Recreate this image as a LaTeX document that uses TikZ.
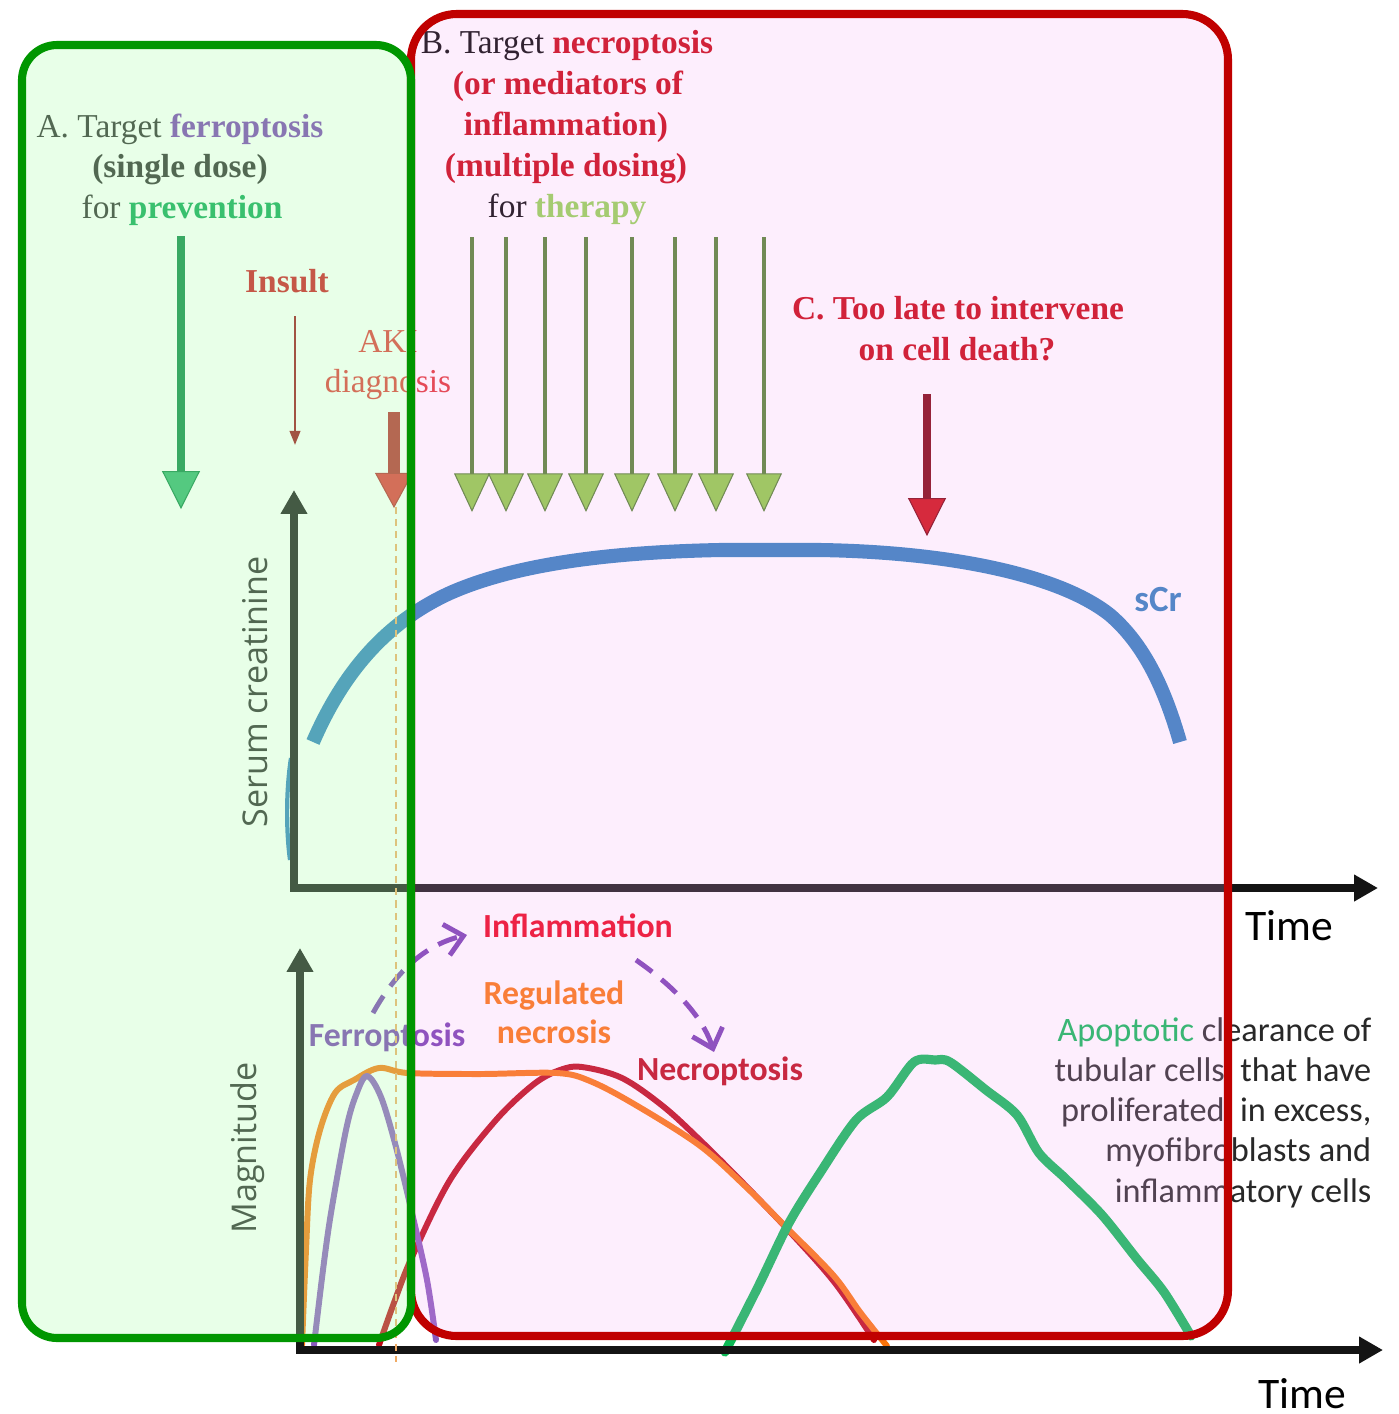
\documentclass[tikz,border=0pt]{standalone}
\usepackage{fontspec}
\setmainfont{Liberation Serif}
\newfontfamily\calfont{Carlito}
\newfontfamily\osfont{Open Sans}
\usetikzlibrary{arrows.meta}

\definecolor{boxgreen}{RGB}{0,150,0}
\definecolor{boxred}{RGB}{192,0,0}
\definecolor{greenwash}{RGB}{180,255,180}
\definecolor{pinkwash}{RGB}{245,170,245}
\definecolor{axisgrey}{RGB}{20,20,20}
\definecolor{darktext}{RGB}{40,40,40}
\definecolor{scrblue}{RGB}{45,126,189}
\definecolor{ferropurple}{RGB}{118,60,178}
\definecolor{necrored}{RGB}{189,8,20}
\definecolor{regorange}{RGB}{251,116,10}
\definecolor{apogreen}{RGB}{12,185,85}
\definecolor{titlered}{RGB}{200,0,12}
\definecolor{inflamred}{RGB}{235,0,26}
\definecolor{preventgreen}{RGB}{5,165,80}
\definecolor{therapygreen}{RGB}{145,212,82}
\definecolor{insultred}{RGB}{205,15,25}
\definecolor{akired}{RGB}{225,50,50}
\definecolor{doseshaft}{RGB}{80,130,45}
\definecolor{dosehead}{RGB}{139,205,66}
\definecolor{lateshaft}{RGB}{126,0,10}
\definecolor{latehead}{RGB}{207,10,15}
\definecolor{akidash}{RGB}{240,170,100}

\begin{document}
\begin{tikzpicture}[x=0.01cm, y=-0.01cm,
    serif/.style={font=\fontsize{9.5}{11.5}\selectfont, inner sep=0pt, anchor=base},
    sanslabel/.style={font=\calfont\bfseries\fontsize{9.6}{11.5}\selectfont, inner sep=0pt, anchor=base},
    sidetext/.style={font=\calfont\fontsize{9.75}{11.5}\selectfont, inner sep=0pt, anchor=base east, text=darktext},
    timelabel/.style={font=\calfont\fontsize{12.4}{14}\selectfont, inner sep=0pt, anchor=base},
    axislabel/.style={font=\osfont\fontsize{9.7}{11.5}\selectfont, inner sep=0pt, rotate=90, text=darktext},
    axisline/.style={axisgrey, line width=2.2pt, line join=miter,
        {Triangle[width=7.2pt, length=6.8pt]}-{Triangle[width=7.2pt, length=6.8pt]}},
    curve/.style={line width=1.7pt, line cap=round, line join=round},
    dosearrow/.style={doseshaft, line width=1.4pt,
        -{Triangle[width=10.2pt, length=11pt, fill=dosehead, line width=0.3pt]}},
    pathway/.style={ferropurple, line width=1.4pt, dash pattern=on 5.7pt off 3.4pt,
        -{Straight Barb[length=5pt, width=9pt, line width=1.4pt]}}]

    \useasboundingbox (0,0) rectangle (1399,1414);

    % serum creatinine panel
    \draw[scrblue, line width=1.2pt] (291,758) .. controls (286,790) and (286,830) .. (290,860);
    \draw[scrblue, line width=4pt] (313,742) .. controls (340,680) and (380,625) .. (450,593)
        .. controls (520,562) and (620,552) .. (720,550) -- (820,550)
        .. controls (950,552) and (1060,575) .. (1110,615)
        .. controls (1145,645) and (1165,690) .. (1180,742);
    \coordinate (ytop1) at (294,490);
    \coordinate (xend1) at (1378,888);
    \draw[axisline] (ytop1) |- (xend1);
    \node[axislabel] (scrlabel) at (255,692) {Serum creatinine};
    \node[timelabel] (time1) at (1289,940) {Time};
    \node[font=\calfont\bfseries\fontsize{10.5}{12}\selectfont, text=scrblue, inner sep=0pt, anchor=base] (scr) at (1158,611) {sCr};

    % cell death panel
    \draw[curve, necrored] plot[smooth, tension=0.55] coordinates {(379,1345) (395,1300) (412,1257) (450,1180) (496,1120) (534,1084) (560,1070) (582,1067) (622,1078) (664,1107) (703,1143) (745,1185) (790,1232) (835,1283) (874,1340)};
    \draw[curve, regorange] plot[smooth, tension=0.55] coordinates {(302,1345) (306,1250) (310,1180) (320,1130) (335,1093) (354,1080) (379,1068) (408,1073) (480,1074) (557,1073) (590,1081) (634,1104) (699,1145) (745,1186) (789,1230) (834,1276) (860,1312) (887,1346)};
    \draw[curve, ferropurple!85!white] plot[smooth, tension=0.55] coordinates {(314,1345) (323,1270) (331,1213) (346,1130) (356,1095) (367,1076) (381,1097) (396,1147) (412,1213) (427,1280) (436,1340)};
    \draw[curve, apogreen, line width=2.6pt] plot[smooth, tension=0.5] coordinates {(725,1352) (758,1287) (789,1223) (820,1173) (856,1120) (887,1097) (914,1062) (935,1060) (950,1062) (986,1090) (1017,1115) (1039,1153) (1066,1179) (1102,1215) (1137,1259) (1164,1292) (1191,1336)};
    \coordinate (ytop2) at (300,948);
    \coordinate (xend2) at (1383,1350);
    \draw[axisline] (ytop2) |- (xend2);
    \node[axislabel] (maglabel) at (248,1148) {Magnitude};
    \node[timelabel] (time2) at (1302,1408) {Time};

    \node[sanslabel, text=inflamred] (inflam) at (578,937) {Inflammation};
    \node[sanslabel, text=regorange] (regnec1) at (554,1004) {Regulated};
    \node[sanslabel, text=regorange] (regnec2) at (554,1043) {necrosis};
    \node[sanslabel, text=ferropurple] (ferro) at (387,1046) {Ferroptosis};
    \node[sanslabel, text=necrored] (necro) at (720,1080) {Necroptosis};
    \coordinate (ferrostart) at (373,1013);
    \coordinate (inflamtip) at (467,935);
    \coordinate (inflamstart) at (636,960);
    \coordinate (necrotip) at (714,1052);
    \draw[pathway] (ferrostart) .. controls (398,968) and (428,944) .. (inflamtip);
    \draw[pathway] (inflamstart) .. controls (672,985) and (702,1015) .. (necrotip);

    \node[sidetext] (apo1) at (1372,1041) {\textcolor{apogreen}{Apoptotic} clearance of};
    \node[sidetext] (apo2) at (1372,1081) {tubular cells\ \ that have};
    \node[sidetext] (apo3) at (1372,1121) {proliferated\ \ in excess,};
    \node[sidetext] (apo4) at (1372,1161) {myofibroblasts and};
    \node[sidetext] (apo5) at (1372,1202) {inflammatory cells};

    \draw[akidash, line width=0.5pt, dash pattern=on 2pt off 1.5pt] (396,482) -- (396,1362);

    % A. prevention
    \node[serif] (atitle1) at (180,137) {\textcolor{darktext}{A. Target} \textcolor{ferropurple}{\bfseries ferroptosis}};
    \node[serif, text=darktext] (atitle2) at (180,177) {\bfseries (single dose)};
    \node[serif] (atitle3) at (182,218) {\textcolor{darktext}{for} \textcolor{preventgreen}{\bfseries prevention}};
    \coordinate (prevtop) at (181,236);
    \coordinate (prevtip) at (181,509);
    \draw[preventgreen!80!black, line width=2pt,
        -{Triangle[width=10.8pt, length=10.8pt, fill=preventgreen!85!white, line width=0.3pt]}] (prevtop) -- (prevtip);

    \node[serif, text=insultred, font=\bfseries\fontsize{9.5}{11.5}\selectfont] (insult) at (287,292) {Insult};
    \coordinate (insulttop) at (295,316);
    \coordinate (insulttip) at (295,445);
    \draw[insultred!75!black, line width=0.6pt, -{Triangle[width=3pt, length=4pt]}] (insulttop) -- (insulttip);

    \node[serif, text=akired] (aki1) at (388,352) {AKI};
    \node[serif, text=akired] (aki2) at (388,392) {diagnosis};
    \coordinate (akitop) at (394,412);
    \coordinate (akitip) at (394,508);
    \draw[akired!80!black, line width=3.4pt,
        -{Triangle[width=10.8pt, length=10pt, fill=akired, line width=0.3pt]}] (akitop) -- (akitip);

    % B. therapy
    \node[serif] (btitle1) at (567,53) {\textcolor{black}{B. Target} \textcolor{titlered}{\bfseries necroptosis}};
    \node[serif, text=titlered] (btitle2) at (568,94) {\bfseries (or mediators of};
    \node[serif, text=titlered] (btitle3) at (566,135) {\bfseries inflammation)};
    \node[serif, text=titlered] (btitle4) at (566,176) {\bfseries (multiple dosing)};
    \node[serif] (btitle5) at (567,217) {\textcolor{black}{for} \textcolor{therapygreen}{\bfseries therapy}};
    \foreach \i/\xx in {1/472, 2/506, 3/545, 4/586, 5/632, 6/675, 7/716, 8/764} {
        \coordinate (dose\i) at (\xx,237);
        \coordinate (dosetip\i) at (\xx,512);
        \draw[dosearrow] (dose\i) -- (dosetip\i);
    }

    % C. too late
    \node[serif, text=titlered] (ctitle1) at (958,319) {\bfseries C. Too late to intervene};
    \node[serif, text=titlered] (ctitle2) at (957,360) {\bfseries on cell death?};
    \coordinate (latetop) at (927,394);
    \coordinate (latetip) at (927,536);
    \draw[lateshaft, line width=2.3pt,
        -{Triangle[width=10.8pt, length=10.8pt, fill=latehead, line width=0.3pt]}] (latetop) -- (latetip);

    % windows
    \draw[boxred, line width=2.3pt, rounded corners=13pt, fill=pinkwash, fill opacity=0.2] (411,14) rectangle (1228,1336);
    \draw[boxgreen, line width=2.3pt, rounded corners=10pt, fill=greenwash, fill opacity=0.3] (22,45) rectangle (411,1338);
\end{tikzpicture}
\end{document}
